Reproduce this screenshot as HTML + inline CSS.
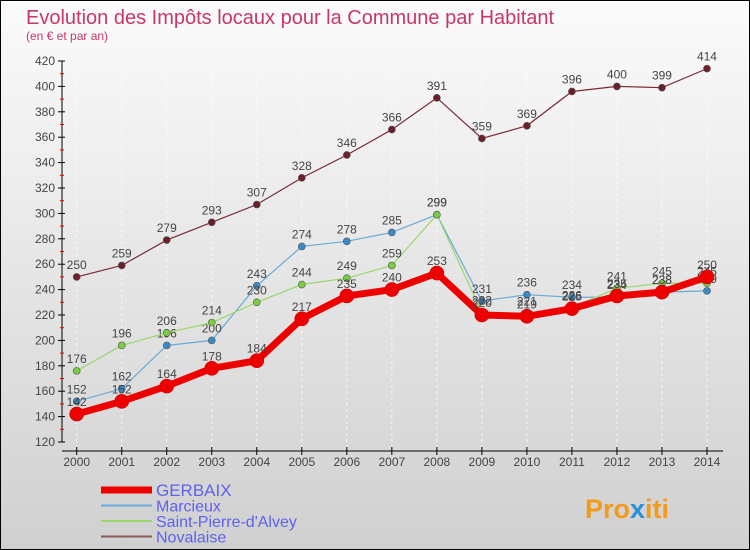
<!DOCTYPE html>
<html><head><meta charset="utf-8"><style>
body{margin:0}
#c{width:750px;height:550px;position:relative;overflow:hidden;font-family:"Liberation Sans","DejaVu Sans",sans-serif;background:linear-gradient(#fbfbfb,#d0d0d0);border:1px solid #000;box-sizing:border-box}
</style></head><body>
<div id="c">
<svg id="s" width="750" height="550" style="position:absolute;left:0;top:0">
<text x="25" y="23" font-size="20" fill="#c8366a">Evolution des Impôts locaux pour la Commune par Habitant</text>
<text x="25" y="39" font-size="12" fill="#c8366a">(en € et par an)</text>
<text x="584" y="517" font-size="27" font-weight="bold" fill="#f49a1a">Pro<tspan fill="#2a8fd6">x</tspan>iti</text>
</svg>
</div>
<script>
const years=[2000,2001,2002,2003,2004,2005,2006,2007,2008,2009,2010,2011,2012,2013,2014];
const gerbaix=[142,152,164,178,184,217,235,240,253,220,219,225,235,238,250];
const marcieux=[152,162,196,200,243,274,278,285,299,231,236,234,234,238,239];
const stpierre=[176,196,206,214,230,244,249,259,299,222,221,226,241,245,245];
const novalaise=[250,259,279,293,307,328,346,366,391,359,369,396,400,399,414];
const yTicks=[120,140,160,180,200,220,240,260,280,300,320,340,360,380,400,420];
const seriesNames=["GERBAIX","Marcieux","Saint-Pierre-d'Alvey","Novalaise"];
const NS="http://www.w3.org/2000/svg",s=document.getElementById('s');
const X=i=>75.7+i*45.02, Y=v=>60+(420-v)*1.27;
function el(t,a,p){const e=document.createElementNS(NS,t);for(const k in a)e.setAttribute(k,a[k]);(p||s).appendChild(e);return e;}
let ax=el('line',{x1:61,y1:60,x2:61,y2:441,stroke:'#000'});


let xa=el('line',{x1:61,y1:450,x2:722,y2:450,stroke:'#000'});


yTicks.forEach((v,i)=>{el('line',{x1:57,y1:Y(v),x2:64,y2:Y(v),stroke:'#000'});
 if(i<yTicks.length-1)el('line',{x1:59,y1:Y(v+10),x2:63,y2:Y(v+10),stroke:'#e00'});
 const t=el('text',{x:54,y:Y(v)+4,'font-size':12,fill:'#444','text-anchor':'end'});t.textContent=v;
 
 });
years.forEach((y,i)=>{el('line',{x1:X(i),y1:446,x2:X(i),y2:454,stroke:'#000'});
 el('line',{x1:X(i),y1:60,x2:X(i),y2:446,stroke:'#fff','stroke-width':1,'stroke-dasharray':'3,3',opacity:.7});
 const t=el('text',{x:X(i),y:465,'font-size':12,fill:'#444','text-anchor':'middle'});t.textContent=y;
 
 });
const cfg=[[novalaise,'#7a2a35',1.2,3.5,'#6a1f2a'],[marcieux,'#6aaad8',1.2,3.5,'#3a8ac8'],[stpierre,'#9ad86a',1.2,3.5,'#7acc40'],[gerbaix,'#ee0000',7,7,'#ee0000']];
const names=['novalaise','marcieux','saint-pierre','gerbaix'];
cfg.forEach(([d,c,w,r,mc],k)=>{
 const g=el('g',{});
 el('polyline',{points:d.map((v,i)=>X(i)+','+Y(v)).join(' '),fill:'none',stroke:c,'stroke-width':w},g);
 d.forEach((v,i)=>{const p=el('circle',{cx:X(i),cy:Y(v),r:r,fill:mc,stroke:k==3?'#c00':'#555','stroke-width':.6},g);
  
  
  const t=el('text',{x:X(i),y:Y(v)-8,'font-size':12,fill:'#444','text-anchor':'middle'},g);t.textContent=v;
  
  });
});
const lc=[['#ee0000',7],['#6aaad8',2],['#9ad86a',2],['#8a5a5a',2]];
seriesNames.forEach((n,i)=>{const y=492+i*15.5;
 const g=el('g',{});
 el('line',{x1:100,y1:y-3,x2:151,y2:y-3,stroke:lc[i][0],'stroke-width':lc[i][1]},g);
 const t=el('text',{x:155,y:y+3,'font-size':i==0?17:16,fill:'#6060ee'},g);t.textContent=n;});
</script>
</body></html>
